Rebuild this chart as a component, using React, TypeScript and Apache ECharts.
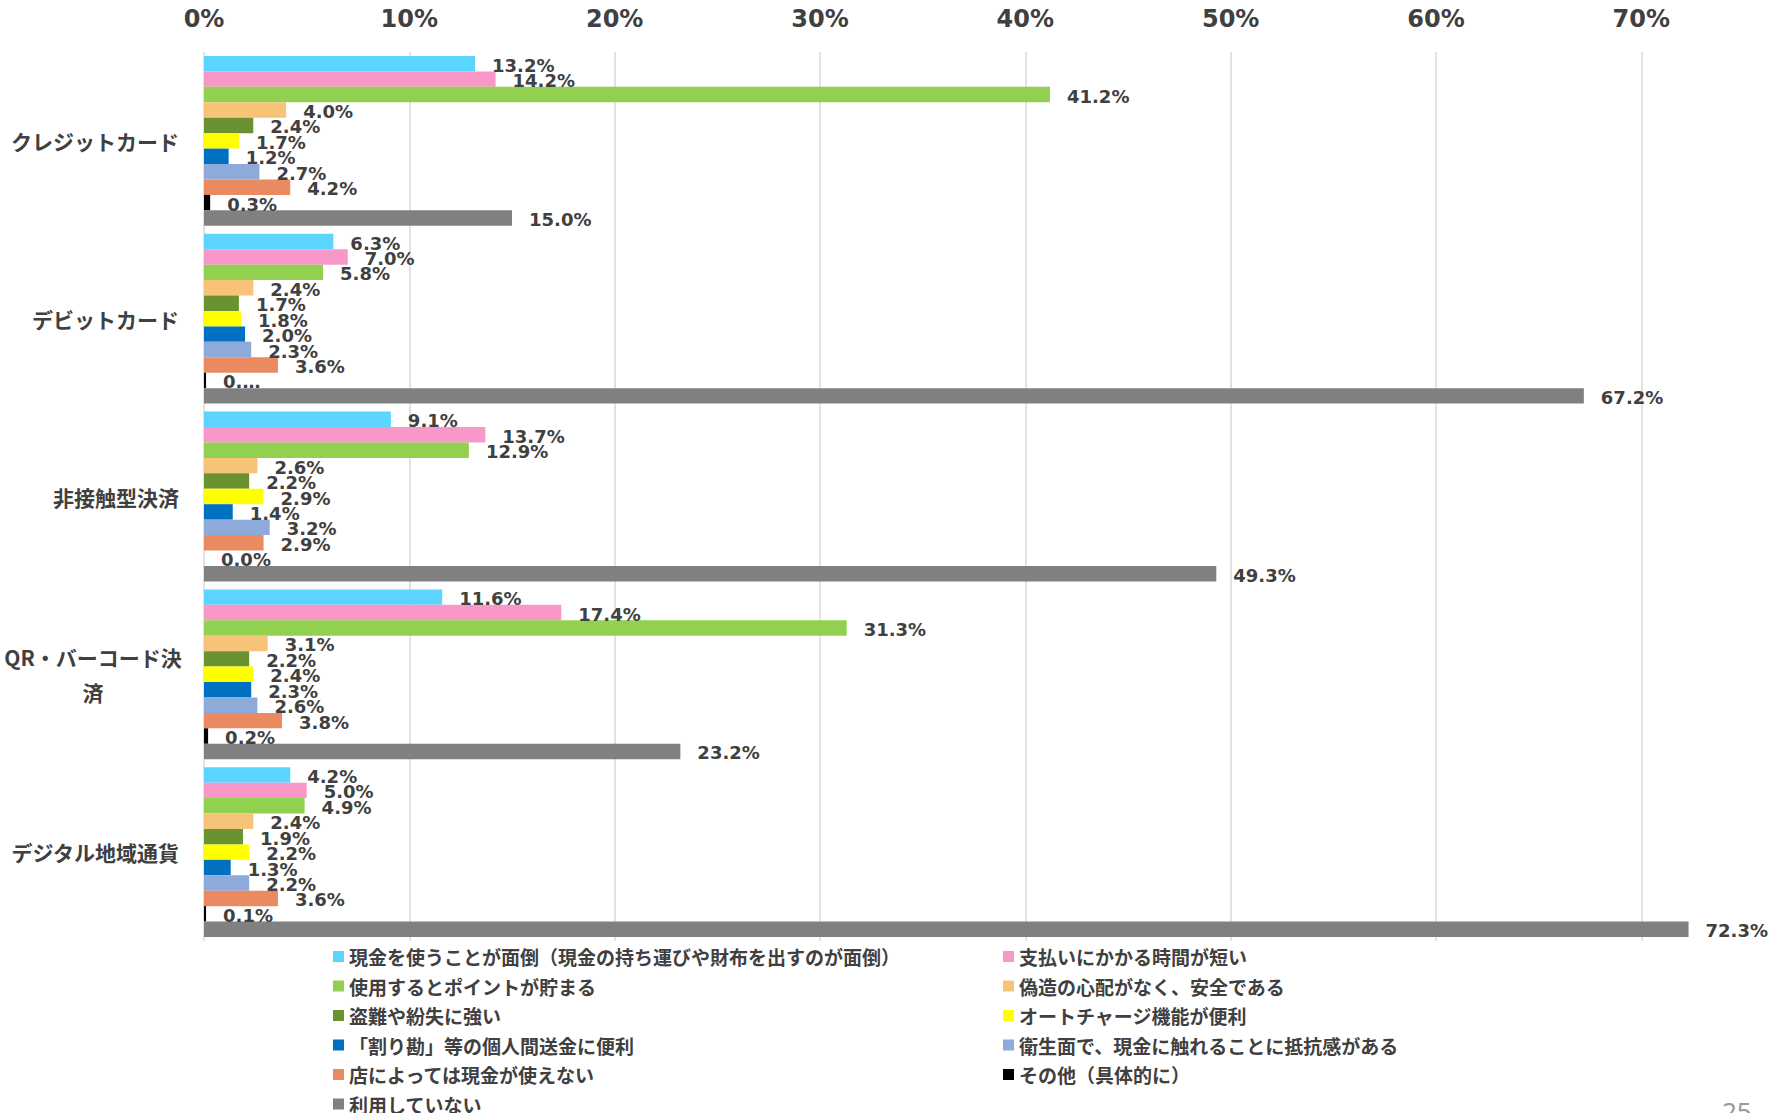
import React, { useEffect, useRef } from "react";
import * as echarts from "echarts";

const categories = ["クレジットカード", "デビットカード", "非接触型決済", "QR・バーコード決済", "デジタル地域通貨"];

const seriesNames = [
  "現金を使うことが面倒（現金の持ち運びや財布を出すのが面倒）",
  "支払いにかかる時間が短い",
  "使用するとポイントが貯まる",
  "偽造の心配がなく、安全である",
  "盗難や紛失に強い",
  "オートチャージ機能が便利",
  "「割り勘」等の個人間送金に便利",
  "衛生面で、現金に触れることに抵抗感がある",
  "店によっては現金が使えない",
  "その他（具体的に）",
  "利用していない",
];

const seriesColors = [
  "#5BD4FF", "#F798C9", "#92D050", "#F6C378", "#6A9231", "#FFFF00",
  "#0070C0", "#8EAADB", "#E98A60", "#000000", "#808080",
];

// values per series, in category order
const s1 = [13.2, 6.3, 9.1, 11.6, 4.2];
const s2 = [14.2, 7.0, 13.7, 17.4, 5.0];
const s3 = [41.2, 5.8, 12.9, 31.3, 4.9];
const s4 = [4.0, 2.4, 2.6, 3.1, 2.4];
const s5 = [2.4, 1.7, 2.2, 2.2, 1.9];
const s6 = [1.7, 1.8, 2.9, 2.4, 2.2];
const s7 = [1.2, 2.0, 1.4, 2.3, 1.3];
const s8 = [2.7, 2.3, 3.2, 2.6, 2.2];
const s9 = [4.2, 3.6, 2.9, 3.8, 3.6];
const s10 = [0.3, 0.1, 0.0, 0.2, 0.1];
const s11 = [15.0, 67.2, 49.3, 23.2, 72.3];
const seriesValues = [s1, s2, s3, s4, s5, s6, s7, s8, s9, s10, s11];

// truncated label text shown in the source (series index, category index, text)
const labelOverrides: [number, number, string][] = [[9, 1, "0.…"]];

const xTicks = { min: 0, max: 75, interval: 10 };

const leftLegendA = [0, 2, 4, 6, 8].map((i) => seriesNames[i]);
const leftLegendB = [10].map((i) => seriesNames[i]);
const rightLegend = [1, 3, 5, 7, 9].map((i) => seriesNames[i]);

const TXT = "#404040";
const JP = "'Noto Sans CJK JP', 'Noto Sans', sans-serif";
const NUM = "'DejaVu Sans', Verdana, sans-serif";

export default function App() {
  const ref = useRef<HTMLDivElement>(null);
  useEffect(() => {
    document.body.style.margin = "0";
    const chart = echarts.init(ref.current!, null, { renderer: "svg" });
    const legendCommon = {
      orient: "vertical",
      top: 947,
      padding: 0,
      itemWidth: 11,
      itemHeight: 11,
      itemGap: 10.5,
      icon: "rect",
      selectedMode: false,
      textStyle: { fontSize: 19, fontWeight: "bold", color: TXT, fontFamily: JP },
    };
    const option: any = {
      animation: false,
      backgroundColor: "#ffffff",
      grid: {
        left: 204,
        top: 52,
        width: 1540,
        height: 889,
        containLabel: false,
        outerBoundsMode: "none",
      },
      legend: [
        { ...legendCommon, left: 333, data: leftLegendA },
        { ...legendCommon, left: 333, top: 947 + 5 * 29.5, data: leftLegendB },
        { ...legendCommon, left: 1003, data: rightLegend },
      ],
      xAxis: {
        type: "value",
        position: "top",
        min: xTicks.min,
        max: xTicks.max,
        interval: xTicks.interval,
        axisLine: { show: false },
        axisTick: { show: false },
        axisLabel: {
          formatter: "{value}%",
          fontSize: 24,
          fontWeight: "bold",
          color: TXT,
          fontFamily: NUM,
          margin: 21,
          showMaxLabel: false,
        },
        splitLine: { show: true, showMaxLine: false, lineStyle: { color: "#D9D9D9", width: 1.5 } },
      },
      yAxis: {
        type: "category",
        data: categories,
        inverse: true,
        axisLine: { show: false },
        axisTick: { show: false },
        axisLabel: {
          fontSize: 21,
          fontWeight: "bold",
          color: TXT,
          fontFamily: JP,
          margin: 25,
          formatter: (v: string) =>
            v === "QR・バーコード決済" ? "{q|QR・バーコード決\n済}" : v,
          rich: {
            q: {
              width: 172,
              align: "center",
              fontSize: 21,
              fontWeight: "bold",
              color: TXT,
              fontFamily: JP,
              lineHeight: 35,
            },
          },
        },
      },
      series: seriesNames.map((name, si) => ({
        name,
        type: "bar",
        barGap: "0%",
        barCategoryGap: "4.5%",
        itemStyle: { color: seriesColors[si] },
        label: {
          show: true,
          position: "right",
          distance: 17,
          offset: [0, 1.5],
          fontSize: 18,
          fontWeight: "bold",
          color: TXT,
          fontFamily: NUM,
          formatter: (p: any) => p.value.toFixed(1) + "%",
        },
        data: seriesValues[si].map((v, ci) => {
          const o = labelOverrides.find((l) => l[0] === si && l[1] === ci);
          return o ? { value: v, label: { formatter: o[2] } } : v;
        }),
      })),
      graphic: [
        {
          type: "text",
          left: 1722,
          top: 1098,
          style: { text: "25", fontSize: 26, fill: "#9a9a9a", fontFamily: "'Noto Sans', sans-serif" },
        },
      ],
    };
    chart.setOption(option);
    return () => chart.dispose();
  }, []);
  return <div ref={ref} style={{ width: 1787, height: 1113 }} />;
}
